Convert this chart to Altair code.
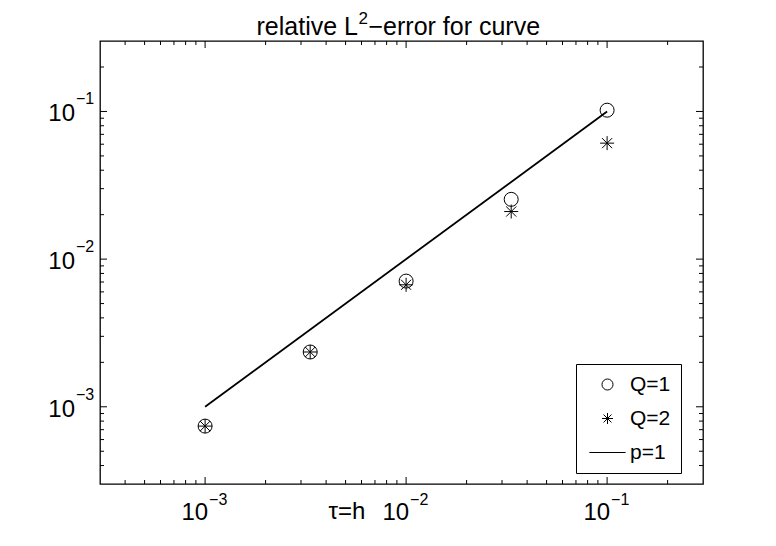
import altair as alt
import pandas as pd

# ---------------- data ----------------
h_vals = [1e-3, 1 / 300, 1e-2, 1 / 30, 1e-1]
err_q1 = [7.4e-4, 2.35e-3, 7.1e-3, 2.54e-2, 1.02e-1]
err_q2 = [7.4e-4, 2.35e-3, 6.7e-3, 2.1e-2, 6.1e-2]
ref_h = [1e-3, 1e-1]
ref_err = [1e-3, 1e-1]
series_names = ["Q=1", "Q=2", "p=1"]

x_domain = [3e-4, 0.3]
y_domain = [3e-4, 0.3]
decades = [1e-3, 1e-2, 1e-1]
decade_exps = ["\u22123", "\u22122", "\u22121"]
minor_ticks = [4e-4, 5e-4, 6e-4, 7e-4, 8e-4, 9e-4,
               2e-3, 3e-3, 4e-3, 5e-3, 6e-3, 7e-3, 8e-3, 9e-3,
               2e-2, 3e-2, 4e-2, 5e-2, 6e-2, 7e-2, 8e-2, 9e-2, 2e-1]

title_parts = ["relative L", "2", "\u2212error for curve"]
x_label = "\u03c4=h"

# ---------------- layout / style ----------------
W, H = 603, 443
FONT = "Liberation Sans"
STAR = "M-1,0L1,0M0,-1L0,1M-0.72,-0.72L0.72,0.72M-0.72,0.72L0.72,-0.72"
LINE = "M-3.3,0L3.3,0"
MAJ, MIN = 7, 4

xs = alt.Scale(type="log", domain=x_domain, nice=False)
ys = alt.Scale(type="log", domain=y_domain, nice=False)


def X(f):
    return alt.X(f, scale=xs, axis=None)


def Y(f):
    return alt.Y(f, scale=ys, axis=None)


pts = pd.DataFrame({
    "h": h_vals * 2,
    "err": err_q1 + err_q2,
    "series": ["Q=1"] * len(h_vals) + ["Q=2"] * len(h_vals),
})
ref = pd.DataFrame({"h": ref_h, "err": ref_err})
dec = pd.DataFrame({"v": decades, "e": decade_exps})
mn = pd.DataFrame({"v": minor_ticks})
one = pd.DataFrame({"a": [0]})

points = alt.Chart(pts).mark_point(
    filled=False, size=196, strokeWidth=1, color="black", opacity=1
).encode(
    x=X("h:Q"),
    y=Y("err:Q"),
    shape=alt.Shape(
        "series:N",
        scale=alt.Scale(domain=series_names, range=["circle", STAR, LINE]),
        legend=alt.Legend(
            title=None, orient="none", legendX=476, legendY=323,
            direction="vertical",
            labelFont=FONT, labelFontSize=21, labelColor="black",
            labelExpr="datum.label + '\u00a0\u00a0\u00a0'",
            symbolSize=121, symbolStrokeWidth=1, symbolStrokeColor="black",
            symbolFillColor="white",
            strokeColor="black", fillColor="white",
            padding=10, rowPadding=12, labelOffset=12, symbolOffset=11,
        ),
    ),
)

line = alt.Chart(ref).mark_line(color="black", strokeWidth=1.8).encode(
    x=X("h:Q"), y=Y("err:Q")
)


def xticks(data, ln):
    bot = alt.Chart(data).mark_rule(color="black", strokeWidth=1).encode(
        x=X("v:Q"), y=alt.value(H), y2=alt.value(H - ln))
    top = alt.Chart(data).mark_rule(color="black", strokeWidth=1).encode(
        x=X("v:Q"), y=alt.value(0), y2=alt.value(ln))
    return [bot, top]


def yticks(data, ln):
    lft = alt.Chart(data).mark_rule(color="black", strokeWidth=1).encode(
        y=Y("v:Q"), x=alt.value(0), x2=alt.value(ln))
    rgt = alt.Chart(data).mark_rule(color="black", strokeWidth=1).encode(
        y=Y("v:Q"), x=alt.value(W), x2=alt.value(W - ln))
    return [lft, rgt]


ticks = xticks(dec, MAJ) + xticks(mn, MIN) + yticks(dec, MAJ) + yticks(mn, MIN)

# x tick labels
xl10 = alt.Chart(dec).mark_text(font=FONT, fontSize=24, align="right",
                                baseline="alphabetic", dx=3, color="black").encode(
    x=X("v:Q"), y=alt.value(H + 36), text=alt.value("10"))
xlexp = alt.Chart(dec).mark_text(font=FONT, fontSize=16, align="left",
                                 baseline="alphabetic", dx=4, color="black").encode(
    x=X("v:Q"), y=alt.value(H + 21), text="e:N")
# y tick labels
yl10 = alt.Chart(dec).mark_text(font=FONT, fontSize=24, align="right",
                                baseline="alphabetic", dy=10, color="black").encode(
    y=Y("v:Q"), x=alt.value(-25), text=alt.value("10"))
ylexp = alt.Chart(dec).mark_text(font=FONT, fontSize=16, align="left",
                                 baseline="alphabetic", dy=-7, color="black").encode(
    y=Y("v:Q"), x=alt.value(-24), text="e:N")

xlab = alt.Chart(one).mark_text(font=FONT, fontSize=24, align="center",
                                baseline="alphabetic", color="black").encode(
    x=alt.value(247), y=alt.value(H + 35), text=alt.value(x_label))

t1 = alt.Chart(one).mark_text(font=FONT, fontSize=25, align="right",
                              baseline="alphabetic", color="black").encode(
    x=alt.value(258), y=alt.value(-6), text=alt.value(title_parts[0]))
t2 = alt.Chart(one).mark_text(font=FONT, fontSize=17, align="left",
                              baseline="alphabetic", color="black").encode(
    x=alt.value(258.5), y=alt.value(-17), text=alt.value(title_parts[1]))
t3 = alt.Chart(one).mark_text(font=FONT, fontSize=25, align="left",
                              baseline="alphabetic", color="black").encode(
    x=alt.value(268.5), y=alt.value(-6), text=alt.value(title_parts[2]))

chart = alt.layer(
    line, points, *ticks, xl10, xlexp, yl10, ylexp, xlab, t1, t2, t3
).properties(
    width=W, height=H,
    autosize=alt.AutoSizeParams(type="none"),
    padding={"left": 92, "top": 33, "right": 65, "bottom": 54},
    background="white",
).configure_view(stroke="black", strokeWidth=1.3)

chart.save("out.html", embed_options={"renderer": "svg", "actions": False})
